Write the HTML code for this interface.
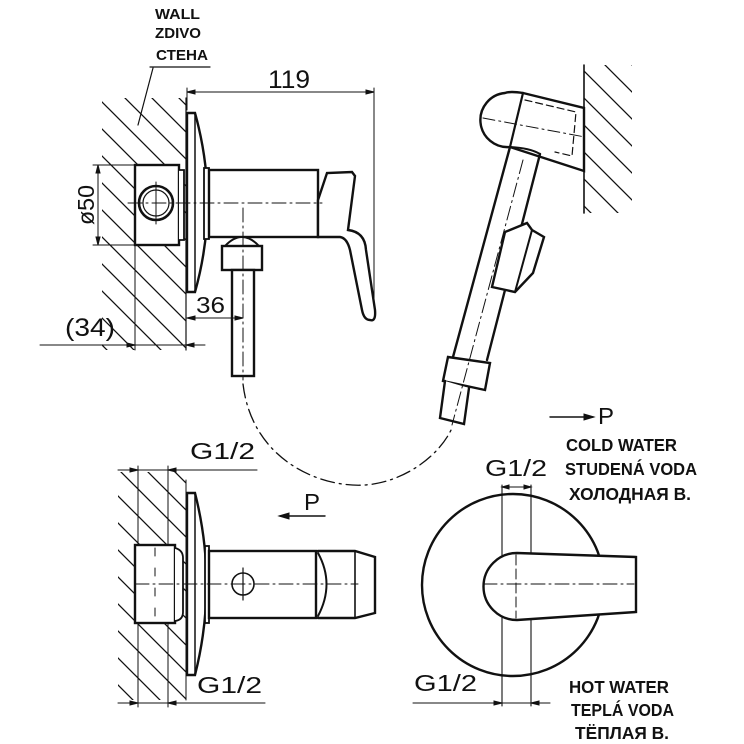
<!DOCTYPE html>
<html><head><meta charset="utf-8"><style>
html,body{margin:0;padding:0;background:#fff}
svg{display:block}
text{font-family:"Liberation Sans","DejaVu Sans",sans-serif;fill:#111}
.b{font-weight:bold}
</style></head><body>
<svg width="744" height="744" viewBox="0 0 744 744" xmlns="http://www.w3.org/2000/svg">
<defs>
<pattern id="h" width="27" height="27" patternUnits="userSpaceOnUse">
<path d="M0,0L27,27M-2,25L2,29M25,-2L29,2" stroke="#111" stroke-width="1.3"/>
</pattern>
</defs>
<g fill="none" stroke="#111" stroke-linecap="round">
<rect x="102" y="98" width="84" height="252" fill="url(#h)" stroke="none"/>
<line x1="186" y1="98" x2="186" y2="350" stroke-width="1.2"/>
<line x1="150" y1="67" x2="210" y2="67" stroke-width="1.2"/>
<line x1="153" y1="68" x2="138" y2="125" stroke-width="1.2"/>
<line x1="187" y1="92" x2="374" y2="92" stroke-width="1"/>
<line x1="187" y1="88" x2="187" y2="110" stroke-width="1"/>
<line x1="374" y1="88" x2="374" y2="320" stroke-width="1"/>
<path d="M187,92 l8,-2 v4z M374,92 l-8,-2 v4z" fill="#111"/>
<rect x="135" y="165" width="44" height="80" fill="#fff" stroke-width="2.4"/>
<path d="M179,170 h5 v70 h-5" fill="#fff" stroke-width="1.8"/>
<circle cx="156" cy="203" r="17" fill="#fff" stroke-width="2.6"/>
<circle cx="156" cy="203" r="13" stroke-width="1.2"/>
<path d="M187,113 h8 Q220,203 195,292 h-8 z" fill="#fff" stroke-width="2.4"/>
<line x1="195" y1="113" x2="195" y2="292" stroke-width="1.5"/>
<rect x="204" y="168" width="5" height="71" fill="#fff" stroke-width="1.8"/>
<rect x="209" y="170" width="109" height="67" fill="#fff" stroke-width="2.4"/>
<path d="M318,200 L327,173 L352,172 L355,176 L348,230 Q365,232 366,250 L375,310 Q376,322 370,320 Q364,320 362,310 L350,250 Q347,238 340,237 L318,237 Z" fill="#fff" stroke-width="2.4"/>
<line x1="318" y1="200" x2="318" y2="230" stroke-width="2"/>
<line x1="128" y1="203" x2="322" y2="203" stroke-width="1" stroke-dasharray="14,4,2,4"/>
<line x1="156" y1="182" x2="156" y2="224" stroke-width="1"/>
<path d="M225,246 Q242,228 259,246" fill="#fff" stroke-width="2"/>
<rect x="222" y="246" width="40" height="24" fill="#fff" stroke-width="2.4"/>
<rect x="232" y="270" width="22" height="106" fill="#fff" stroke-width="2.4"/>
<line x1="243" y1="208" x2="243" y2="380" stroke-width="1" stroke-dasharray="14,4,2,4"/>
<line x1="187" y1="318" x2="243" y2="318" stroke-width="1"/>
<path d="M187,318 l8,-2 v4z M243,318 l-8,-2 v4z" fill="#111"/>
<line x1="40" y1="345" x2="205" y2="345" stroke-width="1"/>
<line x1="135" y1="245" x2="135" y2="350" stroke-width="1"/>
<line x1="186" y1="340" x2="186" y2="350" stroke-width="1"/>
<path d="M135,345 l-8,-2 v4z M186,345 l8,-2 v4z" fill="#111"/>
<line x1="98" y1="165" x2="98" y2="245" stroke-width="1"/>
<line x1="93" y1="165" x2="135" y2="165" stroke-width="1"/>
<line x1="93" y1="245" x2="135" y2="245" stroke-width="1"/>
<path d="M98,165 l-2,8 h4z M98,245 l-2,-8 h4z" fill="#111"/>

<rect x="584" y="65" width="48" height="148" fill="url(#h)" stroke="none"/>
<line x1="584" y1="65" x2="584" y2="213" stroke-width="1.6"/>
<path d="M523,93 L584,108 L584,171 L510,147" fill="#fff" stroke-width="2.4"/>
<path d="M523,93 Q510,91 505,93 A26,26 0 0 0 510,147" fill="#fff" stroke-width="2.4"/>
<line x1="523" y1="93" x2="510" y2="147" stroke-width="2.2"/>
<path d="M525,100 L576,112 L572,156 L555,152" stroke-width="1.2" stroke-dasharray="7,4"/>
<line x1="483" y1="118" x2="585" y2="137" stroke-width="1" stroke-dasharray="12,4,2,4"/>
<path d="M510,147 L453,357 M540,154 L487,360" stroke-width="2.4"/>
<path d="M510,147 Q530,148 540,154" stroke-width="2"/>
<polygon points="448,357 490,363 485,390 443,381" fill="#fff" stroke="#111" stroke-width="2.4"/>
<path d="M445,381 L440,418 L464,424 L469,388" fill="#fff" stroke-width="2.4"/>
<line x1="523" y1="160" x2="452" y2="425" stroke-width="1" stroke-dasharray="14,4,2,4"/>
<polygon points="505,232 527,223 532,230 544,237 533,273 515,292 492,287" fill="#fff" stroke="#111" stroke-width="2.4"/>
<line x1="532" y1="230" x2="515" y2="292" stroke-width="2"/>
<path d="M243,384 C252,460 320,488 365,485 C405,482 440,455 452,428" stroke-width="1.3" stroke-dasharray="14,5,2,5"/>

<rect x="118" y="472" width="68" height="228" fill="url(#h)" stroke="none"/>
<line x1="118" y1="470" x2="257" y2="470" stroke-width="1.1"/>
<line x1="118" y1="703" x2="265" y2="703" stroke-width="1.1"/>
<line x1="138" y1="466" x2="138" y2="707" stroke-width="1"/>
<line x1="168" y1="466" x2="168" y2="707" stroke-width="1"/>
<line x1="186" y1="480" x2="186" y2="700" stroke-width="1"/>
<path d="M138,470 l-8,-2 v4z M168,470 l8,-2 v4z M138,703 l-8,-2 v4z M168,703 l8,-2 v4z" fill="#111"/>
<rect x="135" y="545" width="40" height="78" fill="#fff" stroke-width="2.4"/>
<path d="M175,548 Q183,550 183,558 V612 Q183,620 175,621" fill="#fff" stroke-width="1.8"/>
<line x1="155" y1="548" x2="155" y2="620" stroke-width="1" stroke-dasharray="8,12"/>
<path d="M187,493 h8 Q218,584 195,675 h-8 z" fill="#fff" stroke-width="2.4"/>
<line x1="195" y1="493" x2="195" y2="675" stroke-width="1.5"/>
<rect x="205" y="546" width="4" height="77" fill="#fff" stroke-width="1.8"/>
<rect x="209" y="551" width="107" height="67" fill="#fff" stroke-width="2.4"/>
<path d="M318,551 H355 L375,557 V613 L355,618 H318" fill="#fff" stroke-width="2.4"/>
<path d="M318,553 Q335,584 318,616" stroke-width="2"/>
<line x1="355" y1="551" x2="355" y2="618" stroke-width="1.6"/>
<circle cx="243" cy="584" r="11" stroke-width="1.6"/>
<line x1="243" y1="568" x2="243" y2="600" stroke-width="1.2"/>
<line x1="135" y1="584" x2="358" y2="584" stroke-width="1" stroke-dasharray="14,4,2,4"/>
<line x1="280" y1="516" x2="325" y2="516" stroke-width="1.4"/>
<path d="M279,516 l10,-3 v6z" fill="#111"/>

<circle cx="513" cy="585" r="91" fill="#fff" stroke-width="2.4"/>
<line x1="502" y1="485" x2="502" y2="706" stroke-width="1.1"/>
<line x1="531" y1="485" x2="531" y2="706" stroke-width="1.1"/>
<line x1="502" y1="487" x2="531" y2="487" stroke-width="1"/>
<path d="M502,487 l7,-2 v4z M531,487 l-7,-2 v4z" fill="#111"/>
<line x1="413" y1="703" x2="550" y2="703" stroke-width="1.1"/>
<path d="M502,703 l-8,-2 v4z M531,703 l8,-2 v4z" fill="#111"/>
<path d="M517,553 L636,557 V612 L517,620 A33.5,33.5 0 0 1 517,553 Z" fill="#fff" stroke-width="2.4"/>
<line x1="516" y1="555" x2="516" y2="618" stroke-width="1" stroke-dasharray="10,4"/>
<line x1="483" y1="584" x2="634" y2="584" stroke-width="1" stroke-dasharray="14,4,2,4"/>
<line x1="550" y1="417" x2="593" y2="417" stroke-width="1.4"/>
<path d="M594,417 l-10,-3 v6z" fill="#111"/>
</g>

<g>
<text class="b" x="155" y="19" font-size="15" textLength="45" lengthAdjust="spacingAndGlyphs">WALL</text>
<text class="b" x="155" y="38" font-size="15" textLength="46" lengthAdjust="spacingAndGlyphs">ZDIVO</text>
<text class="b" x="156" y="60" font-size="15" textLength="52" lengthAdjust="spacingAndGlyphs">СТЕНА</text>
<text x="268" y="88" font-size="25" textLength="42" lengthAdjust="spacingAndGlyphs">119</text>
<text x="196" y="313" font-size="23" textLength="29" lengthAdjust="spacingAndGlyphs">36</text>
<text x="65" y="336" font-size="25" textLength="50" lengthAdjust="spacingAndGlyphs">(34)</text>
<text x="0" y="0" font-size="23" textLength="40" lengthAdjust="spacingAndGlyphs" transform="translate(94,225) rotate(-90)">ø50</text>
<text x="190" y="459" font-size="23" textLength="65" lengthAdjust="spacingAndGlyphs">G1/2</text>
<text x="197" y="693" font-size="23" textLength="65" lengthAdjust="spacingAndGlyphs">G1/2</text>
<text x="304" y="510" font-size="23" textLength="16" lengthAdjust="spacingAndGlyphs">P</text>
<text x="485" y="476" font-size="23" textLength="62" lengthAdjust="spacingAndGlyphs">G1/2</text>
<text x="414" y="691" font-size="23" textLength="63" lengthAdjust="spacingAndGlyphs">G1/2</text>
<text x="598" y="424" font-size="23" textLength="16" lengthAdjust="spacingAndGlyphs">P</text>
<text class="b" x="566" y="451" font-size="17.5" textLength="111" lengthAdjust="spacingAndGlyphs">COLD WATER</text>
<text class="b" x="565" y="475" font-size="17.5" textLength="132" lengthAdjust="spacingAndGlyphs">STUDENÁ VODA</text>
<text class="b" x="569" y="500" font-size="17.5" textLength="122" lengthAdjust="spacingAndGlyphs">ХОЛОДНАЯ В.</text>
<text class="b" x="569" y="693" font-size="17.5" textLength="100" lengthAdjust="spacingAndGlyphs">HOT WATER</text>
<text class="b" x="571" y="716" font-size="17.5" textLength="103" lengthAdjust="spacingAndGlyphs">TEPLÁ VODA</text>
<text class="b" x="575" y="739" font-size="17.5" textLength="94" lengthAdjust="spacingAndGlyphs">ТЁПЛАЯ В.</text>
</g>
</svg>
</body></html>
